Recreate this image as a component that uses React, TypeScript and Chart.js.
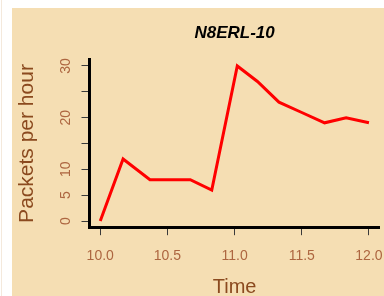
import React, { useEffect, useRef } from "react";
import { Chart, registerables } from "chart.js";

Chart.register(...registerables);

// ---- data ----
const chartTitle = "N8ERL-10";
const xTitle = "Time";
const yTitle = "Packets per hour";
const times = [10.0, 10.17, 10.37, 10.67, 10.83, 11.02, 11.17, 11.33, 11.5, 11.67, 11.83, 12.0];
const packets = [0, 12, 8, 8, 6, 30, 27, 23, 21, 19, 20, 19];
const xTicks = [10.0, 10.5, 11.0, 11.5, 12.0];
const yTicks = [0, 5, 10, 15, 20, 25, 30];
const yTickLabelsShown = [0, 5, 10, 20, 30];

const FONT = "'Liberation Sans', Arial, Helvetica, sans-serif";
const BG = "#F5DEB3";
const TICK_COLOR = "#AD6640";
const LABEL_COLOR = "#8B4A1F";

export default function App() {
  const ref = useRef<HTMLCanvasElement | null>(null);

  useEffect(() => {
    if (!ref.current) return;
    const chart = new Chart(ref.current, {
      type: "line",
      data: {
        datasets: [
          {
            data: times.map((t, i) => ({ x: t, y: packets[i] })),
            borderColor: "#FF0000",
            borderWidth: 3,
            pointRadius: 0,
            tension: 0,
            fill: false,
          },
        ],
      },
      options: {
        animation: false,
        responsive: false,
        devicePixelRatio: 1,
        layout: { padding: { left: 0, top: 0, right: 4.3, bottom: 0 } },
        plugins: {
          legend: { display: false },
          tooltip: { enabled: false },
          title: {
            display: true,
            text: chartTitle,
            fullSize: false,
            color: "#000000",
            font: { family: FONT, size: 17, weight: "bold", style: "italic", lineHeight: 1.2 },
            padding: { top: 15.5, bottom: 15.9 },
          },
        },
        scales: {
          x: {
            type: "linear",
            min: 9.92,
            max: 12.08,
            afterBuildTicks: (scale: any) => {
              scale.ticks = xTicks.map((v) => ({ value: v }));
            },
            afterFit: (scale: any) => {
              scale.height = 68.8;
              scale.paddingLeft = 0;
              scale.paddingRight = 0;
            },
            grid: {
              display: true,
              drawOnChartArea: false,
              drawTicks: true,
              tickLength: 8,
              color: "#3a3a3a",
              lineWidth: 1,
            },
            border: { display: true, color: "#000000", width: 3 },
            ticks: {
              autoSkip: false,
              maxRotation: 0,
              minRotation: 0,
              padding: 12.4,
              color: TICK_COLOR,
              font: { family: FONT, size: 14 },
              callback: (v: any) => Number(v).toFixed(1),
            },
            title: {
              display: true,
              text: xTitle,
              color: LABEL_COLOR,
              font: { family: FONT, size: 20, lineHeight: 1 },
              padding: { top: 0, bottom: -1.7 },
            },
          },
          y: {
            type: "linear",
            min: -1.2,
            max: 31.2,
            afterBuildTicks: (scale: any) => {
              scale.ticks = yTicks.map((v) => ({ value: v }));
            },
            afterFit: (scale: any) => {
              scale.width = 77.5;
              scale.paddingTop = 0;
              scale.paddingBottom = 0;
            },
            grid: {
              display: true,
              drawOnChartArea: false,
              drawTicks: true,
              tickLength: 8,
              color: "#3a3a3a",
              lineWidth: 1,
            },
            border: { display: true, color: "#000000", width: 3 },
            ticks: {
              autoSkip: false,
              minRotation: 90,
              maxRotation: 90,
              crossAlign: "center",
              padding: 7.7,
              color: TICK_COLOR,
              font: { family: FONT, size: 14 },
              callback: (v: any) => (yTickLabelsShown.includes(Number(v)) ? String(v) : ""),
            },
            title: {
              display: true,
              text: yTitle,
              color: LABEL_COLOR,
              font: { family: FONT, size: 21, lineHeight: 1 },
              padding: { top: 4.5, bottom: 0 },
            },
          },
        },
      },
    } as any);
    return () => chart.destroy();
  }, []);

  return (
    <>
      <div
        style={{
          position: "absolute",
          left: 1,
          top: 0,
          width: 1,
          height: 296,
          background: "#f4e9dc",
        }}
      />
      <div style={{ position: "absolute", left: 12, top: 8, width: 372, height: 288 }}>
        <canvas
          ref={ref}
          width={372}
          height={288}
          style={{ display: "block", width: 372, height: 288, background: BG }}
        />
      </div>
    </>
  );
}
